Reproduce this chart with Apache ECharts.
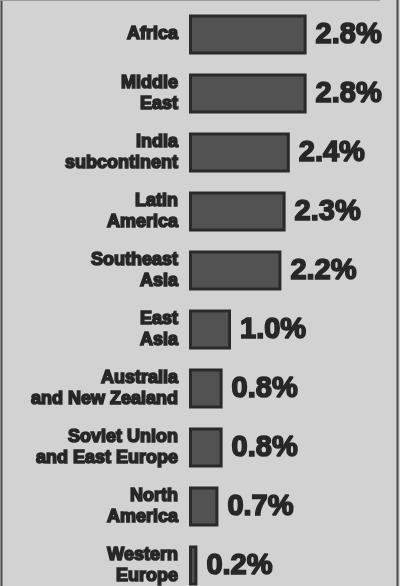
<!DOCTYPE html>
<html>
<head>
<meta charset="utf-8">
<script src="https://cdn.jsdelivr.net/npm/echarts@6/dist/echarts.min.js"></script>
<style>
html,body{margin:0;padding:0;background:#d2d2d2;overflow:hidden;width:400px;height:586px;}
#chart{width:400px;height:600px;}
</style>
</head>
<body>
<div id="chart"></div>
<script>
const categories = [
  'Africa',
  'Middle\nEast',
  'India\nsubcontinent',
  'Latin\nAmerica',
  'Southeast\nAsia',
  'East\nAsia',
  'Australia\nand New Zealand',
  'Soviet Union\nand East Europe',
  'North\nAmerica',
  'Western\nEurope'
];
const growthRates = [2.8, 2.8, 2.4, 2.3, 2.2, 1.0, 0.8, 0.8, 0.7, 0.2];

const chart = echarts.init(document.getElementById('chart'), null, {renderer: 'canvas'});
const ink = '#272727';
chart.setOption({
  backgroundColor: '#d2d2d2',
  animation: false,
  grid: {left: 189, width: 210, top: 5, height: 590, containLabel: false},
  xAxis: {
    type: 'value', min: 0, max: 5, show: false
  },
  yAxis: {
    type: 'category',
    data: categories,
    inverse: true,
    axisLine: {show: false},
    axisTick: {show: false},
    axisLabel: {
      margin: 11,
      color: ink,
      fontFamily: 'Liberation Sans, Arial, sans-serif',
      fontWeight: 'bold',
      fontSize: 18,
      lineHeight: 21,
      align: 'right',
      textBorderColor: ink,
      textBorderWidth: 1.6
    }
  },
  series: [{
    type: 'bar',
    data: growthRates,
    barWidth: 40,
    itemStyle: {color: '#525252', borderColor: '#2a2a2a', borderWidth: 3},
    label: {
      show: true,
      position: 'right',
      distance: 9,
      color: ink,
      fontFamily: 'Liberation Sans, Arial, sans-serif',
      fontWeight: 'bold',
      fontSize: 29,
      textBorderColor: ink,
      textBorderWidth: 1.6,
      formatter: p => p.value.toFixed(1) + '%'
    }
  }],
  graphic: [
    {type: 'line', shape: {x1: 1.5, y1: 0, x2: 1.5, y2: 600}, style: {stroke: '#4a4a4a', lineWidth: 2}},
    {type: 'line', shape: {x1: 397.5, y1: 0, x2: 397.5, y2: 600}, style: {stroke: '#4a4a4a', lineWidth: 2}},
    {type: 'line', shape: {x1: 0, y1: 0.5, x2: 380, y2: 0.5}, style: {stroke: '#9a9a9a', lineWidth: 1}}
  ]
});
</script>
</body>
</html>
